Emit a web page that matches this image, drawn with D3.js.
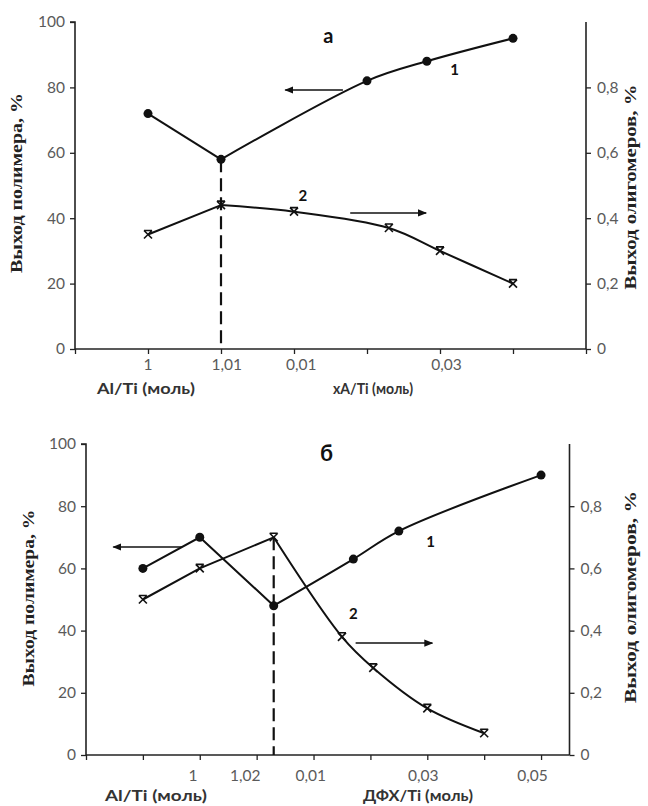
<!DOCTYPE html>
<html><head><meta charset="utf-8">
<script src="https://cdn.jsdelivr.net/npm/d3@7"></script>
<style>body{margin:0;background:#fff}svg{display:block}</style>
</head><body>
<svg id="c" width="648" height="806"></svg>
<script>
// ---------- data ----------
const leftTicks = [0, 20, 40, 60, 80, 100];
const rightTicks = [0, 0.2, 0.4, 0.6, 0.8];
const rightTickLabels = ["0", "0,2", "0,4", "0,6", "0,8"];

// panel а
const aTitle = "а";
const aXTickValues = [0, 1, 2, 3, 4, 5, 6, 7];
const aXLabelPos = [1, 2.08, 3.1, 5.09];
const aXLabels = ["1", "1,01", "0,01", "0,03"];
const aPolymerX = [1, 2, 4, 4.82, 6];
const aPolymerY = [72, 58, 82, 88, 95];
const aOligoX = [1, 2, 3, 4.3, 5, 6];
const aOligoY = [0.35, 0.44, 0.42, 0.37, 0.30, 0.20];
const aDashX = 2;
const aXName1 = "Al/Ti (моль)";
const aXName2 = "хА/Ti (моль)";

// panel б
const bTitle = "б";
const bXTickValues = [0, 1, 2, 3, 4, 5, 6, 7, 8];
const bXLabelPos = [1.88, 2.8, 3.95, 5.93, 7.85];
const bXLabels = ["1", "1,02", "0,01", "0,03", "0,05"];
const bPolymerX = [1, 2, 3.3, 4.7, 5.5, 8];
const bPolymerY = [60, 70, 48, 63, 72, 90];
const bOligoX = [1, 2, 3.3, 4.5, 5.05, 6, 7];
const bOligoY = [0.50, 0.60, 0.70, 0.38, 0.28, 0.15, 0.07];
const bDashX = 3.3;
const bXName1 = "Al/Ti (моль)";
const bXName2 = "ДФХ/Ti (моль)";

const yTitleLeft = "Выход полимера, %";
const yTitleRight = "Выход олигомеров, %";

// ---------- drawing ----------
const svg = d3.select("#c");
const defs = svg.append("defs");
defs.append("marker").attr("id", "ah").attr("viewBox", "0 0 10 10")
  .attr("refX", 9).attr("refY", 5).attr("markerWidth", 9).attr("markerHeight", 9)
  .attr("markerUnits", "userSpaceOnUse").attr("orient", "auto")
  .append("path").attr("d", "M0,1L10,5L0,9Z").attr("fill", "#111");

function panel(p) {
  const g = svg.append("g");
  const x = d3.scaleLinear().domain([0, p.xMax]).range([p.left, p.right]);
  const yL = d3.scaleLinear().domain([0, 100]).range([p.bottom, p.top]);
  const yR = d3.scaleLinear().domain([0, 1]).range([p.bottom, p.top]);
  const tickColor = "#5a5a5a";

  // left axis
  const la = g.append("g").attr("transform", `translate(${p.left},0)`)
    .call(d3.axisLeft(yL).tickValues(leftTicks).tickSize(5).tickPadding(5).tickFormat(d3.format("d")));
  la.select(".domain").attr("stroke", "#222").attr("stroke-width", 1.6).attr("d", `M-5,${p.top}H0V${p.bottom}`);
  la.selectAll(".tick line").attr("stroke", "#222").attr("stroke-width", 1.3);
  la.selectAll("text").attr("font-family", "Lato, 'Open Sans', sans-serif").attr("font-size", 15.5).attr("fill", tickColor);

  // right axis
  const ra = g.append("g").attr("transform", `translate(${p.right},0)`)
    .call(d3.axisRight(yR).tickValues(rightTicks).tickSize(5).tickPadding(6).tickFormat((d, i) => rightTickLabels[i]));
  ra.select(".domain").attr("stroke", "#222").attr("stroke-width", 1.6).attr("d", `M0,${p.top}V${p.bottom}`);
  ra.selectAll(".tick line").attr("stroke", "#222").attr("stroke-width", 1.3);
  ra.selectAll("text").attr("font-family", "Lato, 'Open Sans', sans-serif").attr("font-size", 15.5).attr("fill", tickColor);

  // bottom axis
  const ba = g.append("g").attr("transform", `translate(0,${p.bottom})`)
    .call(d3.axisBottom(x).tickValues(p.xTicks).tickSize(5).tickFormat(""));
  ba.select(".domain").attr("stroke", "#222").attr("stroke-width", 1.6).attr("d", `M${p.left},0H${p.right}`);
  ba.selectAll(".tick line").attr("stroke", "#222").attr("stroke-width", 1.3);

  g.selectAll(".xl").data(p.xLabels).enter().append("text")
    .attr("x", (d, i) => x(p.xLabelPos[i])).attr("y", p.bottom + p.labelDy)
    .attr("text-anchor", "middle").attr("dominant-baseline", "middle")
    .attr("font-family", "Lato, 'Open Sans', sans-serif").attr("font-size", 15.5).attr("fill", tickColor)
    .text(d => d);

  // axis names
  const nameStyle = s => s.attr("font-family", "Lato, 'Open Sans', sans-serif").attr("font-weight", "bold")
    .attr("font-size", 14.5).attr("fill", "#333").attr("text-anchor", "middle").attr("dominant-baseline", "middle");
  g.append("text").call(nameStyle).attr("x", p.name1X).attr("y", p.nameY).attr("textLength", p.name1W)
    .attr("lengthAdjust", "spacingAndGlyphs").text(p.name1);
  g.append("text").call(nameStyle).attr("x", p.name2X).attr("y", p.nameY).attr("textLength", p.name2W)
    .attr("lengthAdjust", "spacingAndGlyphs").text(p.name2);

  // y titles
  const yt = (cx, cy, len, txt) => g.append("text")
    .attr("transform", `translate(${cx},${cy}) rotate(-90)`)
    .attr("text-anchor", "middle").attr("dominant-baseline", "middle")
    .attr("font-family", "'Liberation Serif', 'Times New Roman', serif").attr("font-weight", "bold")
    .attr("font-size", 16).attr("fill", "#222")
    .attr("textLength", len).attr("lengthAdjust", "spacingAndGlyphs").text(txt);
  yt(p.ytl[0], p.ytl[1], p.ytl[2], yTitleLeft);
  yt(p.ytr[0], p.ytr[1], p.ytr[2], yTitleRight);

  // dashed line
  const dashTop = p.dashOn === "polymer"
    ? yL(p.polyY[p.polyX.indexOf(p.dashX)])
    : yR(p.oligoY[p.oligoX.indexOf(p.dashX)]);
  g.append("line").attr("x1", x(p.dashX)).attr("x2", x(p.dashX))
    .attr("y1", dashTop).attr("y2", p.bottom)
    .attr("stroke", "#111").attr("stroke-width", 2.2).attr("stroke-dasharray", "13,6");

  // curves
  const drawSeries = (xs, ys, yS, nStraight) => {
    const pts = xs.map((v, i) => [x(v), yS(ys[i])]);
    const straight = pts.slice(0, nStraight);
    const smooth = pts.slice(nStraight - 1);
    g.append("path").attr("d", d3.line().curve(d3.curveLinear)(straight))
      .attr("fill", "none").attr("stroke", "#111").attr("stroke-width", 2);
    g.append("path").attr("d", d3.line().curve(d3.curveCatmullRom.alpha(0.5))(smooth))
      .attr("fill", "none").attr("stroke", "#111").attr("stroke-width", 2);
    return pts;
  };
  const pPts = drawSeries(p.polyX, p.polyY, yL, p.nStraight);
  const oPts = drawSeries(p.oligoX, p.oligoY, yR, p.nStraight);

  g.selectAll(".cm").data(pPts).enter().append("circle")
    .attr("cx", d => d[0]).attr("cy", d => d[1]).attr("r", 4.5).attr("fill", "#111");
  g.selectAll(".xm").data(oPts).enter().append("path")
    .attr("transform", d => `translate(${d[0]},${d[1]})`)
    .attr("d", "M-4,-4L4,4M-4,4L4,-4M-4,-4L4,-4")
    .attr("stroke", "#111").attr("stroke-width", 1.6).attr("fill", "none");

  // arrows
  p.arrows.forEach(a => {
    const ys = a.axis === "L" ? yL : yR;
    g.append("line").attr("x1", x(a.x1)).attr("x2", x(a.x2)).attr("y1", ys(a.y)).attr("y2", ys(a.y))
      .attr("stroke", "#111").attr("stroke-width", 1.6).attr("marker-end", "url(#ah)");
  });

  // curve numbers
  p.nums.forEach(n => {
    g.append("text").attr("x", x(n.x)).attr("y", yL(n.y))
      .attr("text-anchor", "middle").attr("dominant-baseline", "middle")
      .attr("font-family", "Lato, 'Open Sans', sans-serif").attr("font-weight", "bold")
      .attr("font-size", 15).attr("fill", "#111").text(n.t);
  });

  // panel title
  g.append("text").attr("x", x(p.titleX)).attr("y", yL(p.titleY))
    .attr("text-anchor", "middle").attr("dominant-baseline", "middle")
    .attr("font-family", "Lato, 'Open Sans', sans-serif").attr("font-weight", "bold")
    .attr("font-size", p.titleSize).attr("fill", "#111").text(p.title);
}

panel({
  left: 75, right: 586, top: 22, bottom: 349, xMax: 7,
  xTicks: aXTickValues, xLabelPos: aXLabelPos, xLabels: aXLabels, labelDy: 17,
  name1: aXName1, name1X: 146, name1W: 98, name2: aXName2, name2X: 373, name2W: 80, nameY: 390,
  ytl: [18, 183, 180], ytr: [632, 187, 205],
  polyX: aPolymerX, polyY: aPolymerY, oligoX: aOligoX, oligoY: aOligoY, nStraight: 2,
  dashX: aDashX, dashOn: "polymer",
  arrows: [{ x1: 3.67, x2: 2.88, y: 79.2, axis: "L" }, { x1: 3.77, x2: 4.81, y: 41.6, axis: "L" }],
  nums: [{ t: "1", x: 5.2, y: 85 }, { t: "2", x: 3.12, y: 46.5 }],
  title: aTitle, titleX: 3.47, titleY: 95, titleSize: 20
});

panel({
  left: 86, right: 569.5, top: 444, bottom: 755, xMax: 8.5,
  xTicks: bXTickValues, xLabelPos: bXLabelPos, xLabels: bXLabels, labelDy: 22,
  name1: bXName1, name1X: 156, name1W: 102, name2: bXName2, name2X: 418, name2W: 110, nameY: 797,
  ytl: [30, 598, 177], ytr: [632, 597, 212],
  polyX: bPolymerX, polyY: bPolymerY, oligoX: bOligoX, oligoY: bOligoY, nStraight: 3,
  dashX: bDashX, dashOn: "oligo",
  arrows: [{ x1: 1.69, x2: 0.48, y: 66.9, axis: "L" }, { x1: 4.74, x2: 6.09, y: 36, axis: "L" }],
  nums: [{ t: "1", x: 6.06, y: 68 }, { t: "2", x: 4.7, y: 45 }],
  title: bTitle, titleX: 4.23, titleY: 96.5, titleSize: 22
});
</script>
</body></html>
